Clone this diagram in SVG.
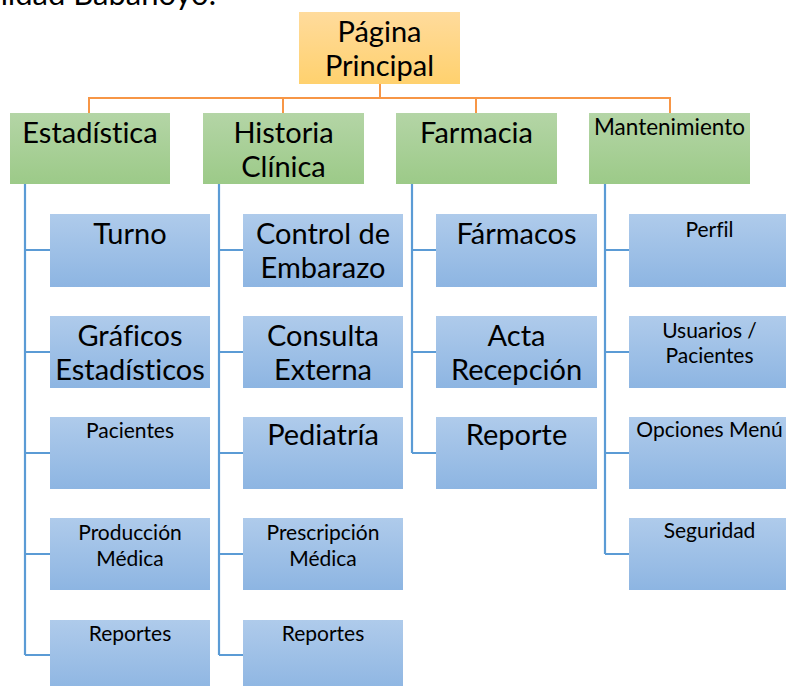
<svg xmlns="http://www.w3.org/2000/svg" width="786" height="686" viewBox="0 0 786 686">
<defs>
<linearGradient id="gO" x1="0" y1="0" x2="0" y2="1"><stop offset="0" stop-color="#FFDB9C"/><stop offset="1" stop-color="#FFD16E"/></linearGradient>
<linearGradient id="gG" x1="0" y1="0" x2="0" y2="1"><stop offset="0" stop-color="#B4D5A6"/><stop offset="1" stop-color="#9CCA88"/></linearGradient>
<linearGradient id="gB" x1="0" y1="0" x2="0" y2="1"><stop offset="0" stop-color="#AFCBEB"/><stop offset="1" stop-color="#8DB5E2"/></linearGradient>
</defs>
<style>
text{font-family:Lato,"Open Sans","Liberation Sans",sans-serif;fill:#000;text-anchor:middle;font-variant-ligatures:none}
.L{font-size:29px}
.S{font-size:21px}
.o{fill:url(#gO)}
.g{fill:url(#gG)}
.b{fill:url(#gB)}
.co{fill:none;stroke:#F79646;stroke-width:2}
.cb{fill:none;stroke:#5B9BD5;stroke-width:2.2}
</style>
<rect width="786" height="686" fill="#fff"/>
<text x="216" y="5" style="font-size:31px;text-anchor:end">nidad Babahoyo.</text>
<g id="connectors">
<path class="co" d="M380 84V98M89 113V98H670V113M283 98V113M476 98V113"/>
<path class="cb" d="M25 184V655M25 250H50M25 352H50M25 453H50M25 554H50M25 655H50"/>
<path class="cb" d="M219 184V655M219 250H243M219 352H243M219 453H243M219 554H243M219 655H243"/>
<path class="cb" d="M412 184V453M412 250H436M412 352H436M412 453H436"/>
<path class="cb" d="M605 184V554M605 250H629M605 352H629M605 453H629M605 554H629"/>
</g>
<g id="root"><rect class="o" x="299" y="12" width="161" height="72"/><text class="L" x="379.5" y="42">Página</text><text class="L" x="379.5" y="76">Principal</text></g>
<g id="estadistica"><rect class="g" x="10" y="113" width="160" height="71"/><text class="L" x="90" y="143">Estadística</text></g>
<g id="historia"><rect class="g" x="203" y="113" width="161" height="71"/><text class="L" x="283.5" y="143">Historia</text><text class="L" x="283.5" y="177">Clínica</text></g>
<g id="farmacia"><rect class="g" x="396" y="113" width="161" height="71"/><text class="L" x="476.5" y="143">Farmacia</text></g>
<g id="mantenimiento"><rect class="g" x="589" y="113" width="161" height="71"/><text x="669.5" y="135" style="font-size:22.5px">Mantenimiento</text></g>
<g id="turno"><rect class="b" x="50" y="214" width="160" height="73"/><text class="L" x="130" y="244">Turno</text></g>
<g id="graficos"><rect class="b" x="50" y="316" width="160" height="72"/><text class="L" x="130" y="346">Gráficos</text><text class="L" x="130" y="380">Estadísticos</text></g>
<g id="pacientes"><rect class="b" x="50" y="417" width="160" height="72"/><text class="S" x="130" y="438">Pacientes</text></g>
<g id="produccion"><rect class="b" x="50" y="518" width="160" height="72"/><text class="S" x="130" y="540">Producción</text><text class="S" x="130" y="566">Médica</text></g>
<g id="reportes1"><rect class="b" x="50" y="620" width="160" height="72"/><text class="S" x="130" y="641">Reportes</text></g>
<g id="control"><rect class="b" x="243" y="214" width="160" height="73"/><text class="L" x="323" y="244">Control de</text><text class="L" x="323" y="278">Embarazo</text></g>
<g id="consulta"><rect class="b" x="243" y="316" width="160" height="72"/><text class="L" x="323" y="346">Consulta</text><text class="L" x="323" y="380">Externa</text></g>
<g id="pediatria"><rect class="b" x="243" y="417" width="160" height="72"/><text class="L" x="323" y="445">Pediatría</text></g>
<g id="prescripcion"><rect class="b" x="243" y="518" width="160" height="72"/><text class="S" x="323" y="540">Prescripción</text><text class="S" x="323" y="566">Médica</text></g>
<g id="reportes2"><rect class="b" x="243" y="620" width="160" height="72"/><text class="S" x="323" y="641">Reportes</text></g>
<g id="farmacos"><rect class="b" x="436" y="214" width="161" height="73"/><text class="L" x="516.5" y="244">Fármacos</text></g>
<g id="acta"><rect class="b" x="436" y="316" width="161" height="72"/><text class="L" x="516.5" y="346">Acta</text><text class="L" x="516.5" y="380">Recepción</text></g>
<g id="reporte"><rect class="b" x="436" y="417" width="161" height="72"/><text class="L" x="516.5" y="445">Reporte</text></g>
<g id="perfil"><rect class="b" x="629" y="214" width="161" height="73"/><text class="S" x="709.5" y="237">Perfil</text></g>
<g id="usuarios"><rect class="b" x="629" y="316" width="161" height="72"/><text class="S" x="709.5" y="338">Usuarios /</text><text class="S" x="709.5" y="363">Pacientes</text></g>
<g id="opciones"><rect class="b" x="629" y="417" width="161" height="72"/><text class="S" x="709.5" y="437">Opciones Menú</text></g>
<g id="seguridad"><rect class="b" x="629" y="518" width="161" height="72"/><text class="S" x="709.5" y="538">Seguridad</text></g>
</svg>
